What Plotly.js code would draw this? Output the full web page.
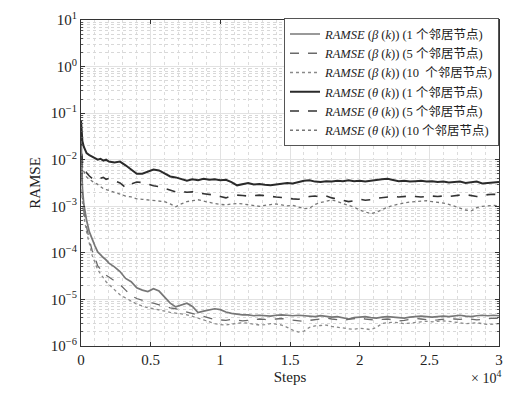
<!DOCTYPE html>
<html>
<head>
<meta charset="utf-8">
<script src="https://cdn.plot.ly/plotly-3.0.1.min.js"></script>
<style>html,body{margin:0;padding:0;background:#fff;}#chart{width:520px;height:393px;}</style>
</head>
<body>
<div id="chart"></div>
<script>
// Steps (x axis)
const steps = [0,50,100,200,300,400,600,800,1000,1200,1400,1600,1800,2000,
2400,2800,3200,3600,4000,4400,4800,5200,5600,6000,6400,6800,7200,7600,8000,8400,8800,9200,9600,
10000,10400,10800,11200,11600,12000,12400,12800,13200,13600,14000,14400,14800,15200,15600,
16000,16400,16800,17200,17600,18000,18400,18800,19200,19600,20000,20400,20800,21200,21600,
22000,22400,22800,23200,23600,24000,24400,24800,25200,25600,26000,26400,26800,27200,27600,
28000,28400,28800,29200,29600,30000];

// log10(RAMSE)
const logBeta1 = [-1.4,-2.2,-2.6,-2.95,-3.15,-3.3,-3.55,-3.72,-3.85,-3.98,-4.05,-4.1,-4.15,-4.22,
-4.3,-4.4,-4.55,-4.62,-4.75,-4.8,-4.83,-4.77,-4.82,-4.96,-5.08,-5.16,-5.12,-5.08,-5.15,-5.28,-5.25,-5.22,-5.2,
-5.22,-5.27,-5.3,-5.32,-5.33,-5.33,-5.35,-5.34,-5.35,-5.36,-5.34,-5.33,-5.34,-5.35,-5.34,
-5.35,-5.36,-5.37,-5.35,-5.36,-5.38,-5.37,-5.4,-5.42,-5.39,-5.38,-5.37,-5.39,-5.4,-5.38,
-5.37,-5.38,-5.39,-5.4,-5.38,-5.37,-5.36,-5.37,-5.38,-5.37,-5.36,-5.37,-5.35,-5.34,-5.36,
-5.37,-5.35,-5.34,-5.35,-5.34,-5.35];

const logBeta5 = [-1.5,-2.4,-2.8,-3.1,-3.3,-3.45,-3.72,-3.95,-4.1,-4.28,-4.35,-4.42,-4.48,-4.52,
-4.6,-4.68,-4.8,-4.92,-4.98,-5.02,-5.06,-5.08,-5.12,-5.15,-5.18,-5.2,-5.24,-5.27,-5.3,-5.34,-5.37,-5.4,-5.43,
-5.44,-5.45,-5.43,-5.44,-5.46,-5.45,-5.43,-5.42,-5.43,-5.44,-5.42,-5.41,-5.43,-5.44,-5.46,
-5.47,-5.45,-5.43,-5.41,-5.4,-5.42,-5.44,-5.45,-5.43,-5.41,-5.4,-5.42,-5.44,-5.45,-5.43,
-5.42,-5.44,-5.46,-5.45,-5.43,-5.41,-5.42,-5.44,-5.45,-5.44,-5.42,-5.41,-5.42,-5.43,-5.41,
-5.42,-5.44,-5.43,-5.41,-5.4,-5.41];

const logBeta10 = [-1.6,-2.5,-2.9,-3.2,-3.4,-3.55,-3.8,-4.05,-4.2,-4.36,-4.45,-4.55,-4.62,-4.68,
-4.78,-4.9,-4.97,-5.04,-5.1,-5.14,-5.18,-5.2,-5.22,-5.25,-5.28,-5.29,-5.31,-5.33,-5.36,-5.4,-5.44,-5.48,-5.52,
-5.54,-5.55,-5.53,-5.52,-5.5,-5.51,-5.53,-5.55,-5.54,-5.52,-5.53,-5.55,-5.6,-5.66,-5.7,
-5.68,-5.6,-5.57,-5.56,-5.55,-5.58,-5.6,-5.62,-5.63,-5.64,-5.62,-5.63,-5.65,-5.6,-5.52,
-5.5,-5.49,-5.5,-5.52,-5.51,-5.49,-5.48,-5.47,-5.48,-5.47,-5.46,-5.47,-5.48,-5.5,-5.52,
-5.51,-5.5,-5.52,-5.54,-5.53,-5.52];

const logTheta1 = [-1.15,-1.45,-1.6,-1.72,-1.8,-1.86,-1.9,-1.93,-1.97,-2.0,-1.98,-2.02,-2.0,-2.04,
-2.06,-2.04,-2.12,-2.22,-2.3,-2.3,-2.26,-2.21,-2.23,-2.3,-2.36,-2.38,-2.42,-2.45,-2.42,-2.44,-2.41,-2.43,-2.42,
-2.44,-2.43,-2.48,-2.55,-2.52,-2.5,-2.53,-2.52,-2.54,-2.55,-2.53,-2.52,-2.5,-2.51,-2.48,
-2.45,-2.44,-2.47,-2.48,-2.46,-2.47,-2.45,-2.46,-2.44,-2.46,-2.45,-2.47,-2.45,-2.44,-2.42,
-2.41,-2.43,-2.46,-2.45,-2.47,-2.46,-2.45,-2.47,-2.46,-2.48,-2.47,-2.49,-2.48,-2.47,-2.5,
-2.48,-2.47,-2.51,-2.5,-2.49,-2.48];

const logTheta5 = [-1.5,-1.9,-2.05,-2.15,-2.22,-2.28,-2.35,-2.4,-2.42,-2.43,-2.4,-2.38,-2.42,-2.4,
-2.45,-2.5,-2.6,-2.52,-2.48,-2.49,-2.52,-2.56,-2.58,-2.62,-2.66,-2.69,-2.68,-2.7,-2.69,-2.72,-2.73,-2.74,-2.76,
-2.79,-2.82,-2.78,-2.76,-2.77,-2.78,-2.77,-2.76,-2.77,-2.79,-2.8,-2.81,-2.83,-2.84,-2.85,
-2.82,-2.79,-2.78,-2.8,-2.78,-2.82,-2.84,-2.87,-2.9,-2.88,-2.85,-2.87,-2.86,-2.83,-2.82,
-2.8,-2.79,-2.8,-2.79,-2.78,-2.79,-2.8,-2.79,-2.78,-2.79,-2.78,-2.79,-2.77,-2.76,-2.75,
-2.77,-2.79,-2.78,-2.75,-2.74,-2.75];

const logTheta10 = [-1.6,-2.0,-2.15,-2.25,-2.32,-2.37,-2.42,-2.47,-2.5,-2.53,-2.58,-2.62,-2.64,-2.66,
-2.7,-2.74,-2.78,-2.8,-2.84,-2.85,-2.86,-2.87,-2.88,-2.9,-2.95,-3.01,-2.95,-2.9,-2.88,-2.86,-2.89,-2.92,-2.94,
-2.96,-2.97,-2.95,-2.94,-2.95,-2.97,-2.99,-3.0,-2.98,-2.96,-2.95,-2.97,-2.99,-2.98,-3.01,
-3.05,-3.04,-2.96,-2.92,-2.89,-2.86,-2.9,-2.94,-2.97,-3.02,-3.08,-3.12,-3.16,-3.13,-3.07,
-3.02,-2.98,-2.95,-2.93,-2.91,-2.9,-2.89,-2.88,-2.9,-2.91,-2.93,-2.96,-3.0,-3.05,-3.08,
-3.1,-3.03,-3.0,-2.99,-2.98,-2.99];

const seriesNames = [
  '<i>RAMSE</i> (<i>β</i> (<i>k</i>)) (1 个邻居节点)',
  '<i>RAMSE</i> (<i>β</i> (<i>k</i>)) (5 个邻居节点)',
  '<i>RAMSE</i> (<i>β</i> (<i>k</i>)) (10  个邻居节点)',
  '<i>RAMSE</i> (<i>θ</i> (<i>k</i>)) (1 个邻居节点)',
  '<i>RAMSE</i> (<i>θ</i> (<i>k</i>)) (5 个邻居节点)',
  '<i>RAMSE</i> (<i>θ</i> (<i>k</i>)) (10 个邻居节点)'
];
const xTickVals = [0,5000,10000,15000,20000,25000,30000];
const xTickText = ['0','0.5','1','1.5','2','2.5','3'];
const yTickVals = [1e1,1e0,1e-1,1e-2,1e-3,1e-4,1e-5,1e-6];
const yTickText = ['10<sup>1</sup>','10<sup>0</sup>','10<sup>−1</sup>','10<sup>−2</sup>','10<sup>−3</sup>','10<sup>−4</sup>','10<sup>−5</sup>','10<sup>−6</sup>'];

const logs = [logBeta1, logBeta5, logBeta10, logTheta1, logTheta5, logTheta10];
const styles = [
  {color:'#777777', width:1.7, dash:'solid'},
  {color:'#6a6a6a', width:1.3, dash:'dash'},
  {color:'#8a8a8a', width:1.3, dash:'dot'},
  {color:'#2a2a2a', width:2.0, dash:'solid'},
  {color:'#333333', width:1.6, dash:'dash'},
  {color:'#777777', width:1.3, dash:'dot'}
];

const traces = logs.map((arr, i) => ({
  x: steps,
  y: arr.map(e => Math.pow(10, e)),
  type: 'scatter',
  mode: 'lines',
  name: seriesNames[i],
  line: styles[i]
}));

const FONT = 'Liberation Serif, Times New Roman, Noto Sans CJK SC, serif';

const layout = {
  width: 520, height: 393,
  margin: {l: 81, r: 21, t: 20, b: 47},
  paper_bgcolor: '#fff', plot_bgcolor: '#fff',
  font: {family: FONT, size: 15, color: '#222'},
  showlegend: true,
  legend: {
    x: 1, xanchor: 'right', y: 1.005, yanchor: 'top',
    bgcolor: '#fff', bordercolor: '#555', borderwidth: 1,
    font: {family: FONT, size: 12.5, color: '#222'},
    tracegroupgap: 0
  },
  xaxis: {
    range: [0, 30000],
    tickvals: xTickVals, ticktext: xTickText,
    ticks: 'inside', ticklen: 4, tickcolor: '#333',
    showline: true, linecolor: '#333', linewidth: 1, mirror: 'ticks',
    showgrid: true, gridcolor: '#e2e2e2', gridwidth: 1,
    minor: {dtick: 1000, showgrid: true, gridcolor: '#dcdcdc', griddash: 'dot', ticks: ''},
    zeroline: false,
    title: {text: 'Steps', font: {family: FONT, size: 15}, standoff: 4},
    tickfont: {family: FONT, size: 15}
  },
  yaxis: {
    type: 'log',
    range: [-6, 1],
    tickvals: yTickVals, ticktext: yTickText,
    ticks: 'inside', ticklen: 4, tickcolor: '#333',
    showline: true, linecolor: '#333', linewidth: 1, mirror: 'ticks',
    showgrid: true, gridcolor: '#e2e2e2', gridwidth: 1,
    minor: {dtick: 'D1', showgrid: true, gridcolor: '#d8d8d8', griddash: 'dot', ticks: 'inside', ticklen: 2, tickcolor: '#555'},
    zeroline: false,
    title: {text: 'RAMSE', font: {family: FONT, size: 15}, standoff: 6},
    tickfont: {family: FONT, size: 15}
  },
  annotations: [{
    xref: 'paper', yref: 'paper', x: 1.01, y: -0.095, xanchor: 'right', yanchor: 'middle',
    text: '× 10<sup>4</sup>', showarrow: false, font: {family: FONT, size: 14, color: '#222'}
  }]
};

Plotly.newPlot('chart', traces, layout, {staticPlot: true, displayModeBar: false});
</script>
</body>
</html>
